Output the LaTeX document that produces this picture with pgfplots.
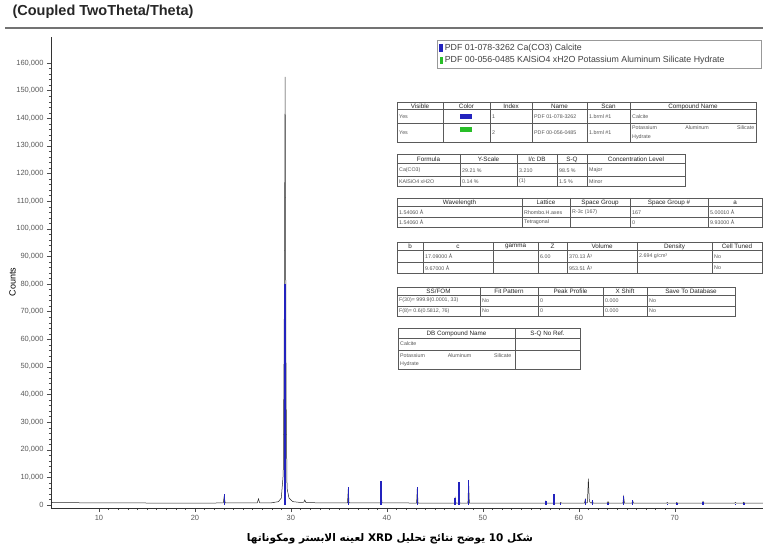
\documentclass[border=0pt]{standalone}
\usepackage{fontspec}
\setmainfont{Liberation Sans}
\newfontfamily\arabicfont[Script=Arabic]{DejaVu Sans}
\usepackage{pgfplots}
\pgfplotsset{compat=1.18}
\TeXXeTstate=1
\definecolor{stickblue}{RGB}{35,35,190}
\definecolor{stickgreen}{RGB}{40,190,40}
\definecolor{tabline}{RGB}{90,90,90}
\definecolor{tabtext}{RGB}{85,85,85}
\newcommand\hfont{\fontsize{6.3}{7}\selectfont}
\newcommand\bfont{\fontsize{5.3}{6}\selectfont}
% #1 x1, #2 x2, #3 y1, #4 y2, #5 inner columns, #6 header line, #7 other lines
\newcommand\tgrid[7]{%
  \fill[white] (#1,#3) rectangle (#2,#4);
  \draw[tabline,line width=0.5pt] (#1,#3) rectangle (#2,#4);
  \foreach \xx in {#5} {\draw[tabline,line width=0.4pt] (\xx,#3)--(\xx,#4);}
  \draw[tabline,line width=1pt] (#1,#6)--(#2,#6);
  \foreach \yy in {#7} {\draw[tabline,line width=0.6pt] (#1,\yy)--(#2,\yy);}
}
\newcommand\hc[3]{\node[font=\hfont,text=black!85,inner sep=0pt] at (#1,#2+0.6) {#3};}
\newcommand\bc[3]{\node[font=\bfont,text=tabtext,anchor=west,inner sep=0pt] at (#1+2,#2) {#3};}
\begin{document}
\begin{tikzpicture}
\useasboundingbox (0,0) rectangle (763pt,-548pt);
\begin{axis}[
  at={(51pt,-508pt)}, anchor=south west,
  scale only axis, width=712pt, height=471pt,
  xmin=5.0, xmax=79.2, ymin=-1100, ymax=169400,
  axis lines=left, axis line style={-, black!80},
  tick align=outside,
  xtick={10,20,...,70}, minor x tick num=9,
  ytick={0,10000,...,160000}, minor y tick num=4,
  major tick length=4pt, minor tick length=2pt,
  tick style={black!70},
  scaled y ticks=false,
  /pgf/number format/.cd, fixed, 1000 sep={,}, assume math mode=true,
  /pgfplots/.cd,
  ticklabel style={font=\fontsize{7.5}{8}\selectfont, text=black!65},
  ylabel={Counts}, ylabel style={at={(axis description cs:-0.054,0.48)}, anchor=center, rotate=0, font=\fontsize{9}{10}\selectfont},
  legend style={at={(axis description cs:0.5421,0.9936)}, anchor=north west, draw=black!40,
    font=\fontsize{8.8}{9.5}\selectfont, text=black!75, row sep=0.3pt, inner sep=2pt, cells={anchor=west}},
  legend cell align=left,
  clip=true,
]
% measured pattern
\addplot[black!85, line width=0.5pt, forget plot] coordinates {
(5,900) (6,850) (8,800) (10,760) (12,740) (14,720) (16,700) (18,690) (20,690) (22,700)
(22.95,750) (23.05,3200) (23.15,760) (25,720) (26.5,800) (26.62,2200) (26.75,800)
(28,800) (28.7,1200) (29.0,2500) (29.2,11000) (29.3,60000) (29.4,155000) (29.5,40000)
(29.6,6000) (29.8,2500) (30.2,1200) (31,900) (31.35,1000) (31.45,1800) (31.55,900)
(33,750) (35.9,750) (35.98,5800) (36.06,750) (39.32,750) (39.4,8200) (39.48,750)
(43.1,700) (43.17,6000) (43.25,700) (47.05,700) (47.12,2500) (47.2,700) (47.45,700)
(47.52,7600) (47.6,700) (48.45,700) (48.52,8300) (48.6,700) (56.5,700) (56.57,1400)
(56.65,700) (57.35,700) (57.42,3400) (57.5,700) (58.05,700) (58.12,900) (58.2,700)
(60.6,700) (60.68,2000) (60.76,700) (60.9,800) (61.0,9500) (61.1,1500) (61.2,800)
(61.35,700) (61.42,1500) (61.5,700) (62.95,700) (63.05,1200) (63.15,700) (64.6,700)
(64.68,3000) (64.76,700) (65.55,700) (65.62,1500) (65.7,700) (69.15,650) (69.22,900)
(69.3,650) (70.15,650) (70.22,900) (70.3,650) (72.85,650) (72.95,1300) (73.05,650)
(76.25,650) (76.32,900) (76.4,650) (77.1,650) (77.2,1000) (77.3,650) (79.2,650)
};
% calcite reference sticks
\addplot[ycomb, stickblue, line width=1.4pt, mark=none,
  legend image code/.code={\fill[stickblue] (0.03cm,-0.11cm) rectangle (0.11cm,0.11cm);}] coordinates {
(23.05,4000) (29.4,80000) (35.98,6500) (39.4,8800) (43.17,6500) (47.12,2700)
(47.52,8300) (48.52,9200) (56.57,1500) (57.42,3800) (58.12,600) (60.68,2300)
(61.42,1800) (63.05,800) (64.68,3300) (65.62,1700) (69.22,500) (70.22,700)
(72.95,1200) (76.32,500) (77.2,600)
};
\addlegendentry{\makebox[312pt][l]{PDF 01-078-3262 Ca(CO3) Calcite}}
\addlegendimage{legend image code/.code={\fill[stickgreen] (0.03cm,-0.11cm) rectangle (0.11cm,0.11cm);}}
\addlegendentry{\makebox[312pt][l]{PDF 00-056-0485 KAlSiO4 xH2O Potassium Aluminum Silicate Hydrate}}
\end{axis}
\begin{scope}[x=1pt,y=-1pt]
\node[anchor=west, font=\bfseries\fontsize{14.5}{17}\selectfont, text=black!85] at (9,12) {(Coupled TwoTheta/Theta)};
\draw[black!55, line width=2pt] (5,28.5)--(763,28.5);
% table 1
\tgrid{397}{756}{102}{142}{443,490,532,587,630}{110}{123}
\hc{420}{106}{Visible}\hc{466.5}{106}{Color}\hc{511}{106}{Index}\hc{559.5}{106}{Name}\hc{608.5}{106}{Scan}\hc{693}{106}{Compound Name}
\bc{397}{117}{Yes}\fill[stickblue] (460,114) rectangle (472,119);\bc{490}{117}{1}\bc{532}{117}{PDF 01-078-3262}\bc{587}{117}{1.brml \#1}\bc{630}{117}{Calcite}
\bc{397}{133}{Yes}\fill[stickgreen] (460,127) rectangle (472,132);\bc{490}{133}{2}\bc{532}{133}{PDF 00-056-0485}\bc{587}{133}{1.brml \#1}
\node[font=\bfont,text=tabtext,anchor=west,inner sep=0pt] at (632,128) {\hbox to 122pt{Potassium\hfill Aluminum\hfill Silicate}};
\bc{630}{137}{Hydrate}
% table 2
\tgrid{397}{685}{154}{186}{460,517,557,587}{164}{176}
\hc{428.5}{159}{Formula}\hc{488.5}{159}{Y-Scale}\hc{537}{159}{I/c DB}\hc{572}{159}{S-Q}\hc{636}{159}{Concentration Level}
\bc{397}{170.5}{Ca(CO3)}\bc{460}{170.5}{29.21 \%}\bc{517}{170.5}{3.210}\bc{557}{170.5}{98.5 \%}\bc{587}{170.5}{Major}
\bc{397}{181.5}{KAlSiO4 xH2O}\bc{460}{181.5}{0.14 \%}\bc{517}{181.5}{(1)}\bc{557}{181.5}{1.5 \%}\bc{587}{181.5}{Minor}
% table 3
\tgrid{397}{762}{198}{227}{522,570,630,708}{206.5}{217.5}
\hc{459.5}{202}{Wavelength}\hc{546}{202}{Lattice}\hc{600}{202}{Space Group}\hc{669}{202}{Space Group \#}\hc{735}{202}{a}
\bc{397}{212.5}{1.54060 Å}\bc{522}{212.5}{Rhombo.H.axes}\bc{570}{212.5}{R-3c (167)}\bc{630}{212.5}{167}\bc{708}{212.5}{5.00010 Å}
\bc{397}{222.5}{1.54060 Å}\bc{522}{222.5}{Tetragonal}\bc{630}{222.5}{0}\bc{708}{222.5}{9.93000 Å}
% table 4
\tgrid{397}{762}{242}{273}{423,493,538,567,637,712}{250}{262}
\hc{410}{246}{b}\hc{458}{246}{c}\hc{515.5}{246}{gamma}\hc{552.5}{246}{Z}\hc{602}{246}{Volume}\hc{674.5}{246}{Density}\hc{737}{246}{Cell Tuned}
\bc{423}{256.5}{17.09000 Å}\bc{538}{256.5}{6.00}\bc{567}{256.5}{370.13 Å³}\bc{637}{256.5}{2.694 g/cm³}\bc{712}{256.5}{No}
\bc{423}{268}{9.67000 Å}\bc{567}{268}{953.51 Å³}\bc{712}{268}{No}
% table 5
\tgrid{397}{735}{287}{316}{480,538,603,647}{295}{306}
\hc{438.5}{291}{SS/FOM}\hc{509}{291}{Fit Pattern}\hc{570.5}{291}{Peak Profile}\hc{625}{291}{X Shift}\hc{691}{291}{Save To Database}
\bc{397}{300.5}{F(30)= 999.9(0.0001, 33)}\bc{480}{300.5}{No}\bc{538}{300.5}{0}\bc{603}{300.5}{0.000}\bc{647}{300.5}{No}
\bc{397}{311}{F(8)= 0.6(0.5812, 76)}\bc{480}{311}{No}\bc{538}{311}{0}\bc{603}{311}{0.000}\bc{647}{311}{No}
% table 6
\tgrid{398}{580}{328}{369}{515}{338}{350}
\hc{456.5}{333}{DB Compound Name}\hc{547.5}{333}{S-Q No Ref.}
\bc{398}{344}{Calcite}
\node[font=\bfont,text=tabtext,anchor=west,inner sep=0pt] at (400,356) {\hbox to 111pt{Potassium\hfill Aluminum\hfill Silicate}};
\bc{398}{364}{Hydrate}
% caption
\node[font=\arabicfont\bfseries\fontsize{10.5}{13}\selectfont] at (390,539) {\beginR شكل \beginL 10\endL{} يوضح نتائج تحليل \beginL XRD\endL{} لعينه الابستر ومكوناتها\endR};
\end{scope}
\end{tikzpicture}
\end{document}
